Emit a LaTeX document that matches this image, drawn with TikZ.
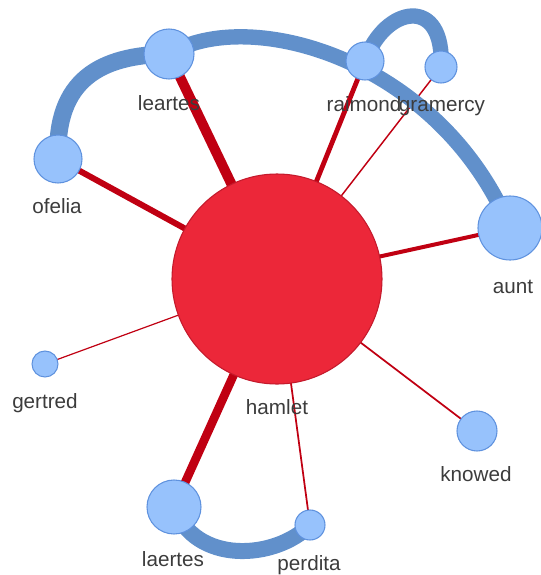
\documentclass[tikz,border=0pt]{standalone}
\usepackage{fontspec}
\setmainfont{Liberation Sans}
\definecolor{hamfill}{HTML}{EC2739}
\definecolor{hamdraw}{HTML}{C41A2C}
\definecolor{rededge}{HTML}{C00012}
\definecolor{nodefill}{HTML}{97C2FC}
\definecolor{nodedraw}{HTML}{5F92DE}
\definecolor{blueedge}{HTML}{6190CB}
\definecolor{labelcol}{HTML}{3C3C3C}
\begin{document}
\begin{tikzpicture}[x=0.75pt,y=-0.75pt,
  vnode/.style={circle,fill=nodefill,draw=nodedraw,line width=0.8pt,inner sep=0pt},
  hnode/.style={circle,fill=hamfill,draw=hamdraw,line width=0.8pt,inner sep=0pt},
  redge/.style={draw=rededge},
  bedge/.style={draw=blueedge,line cap=round},
  lbl/.style={text=labelcol,font=\fontsize{15.5}{18}\selectfont,anchor=base,inner sep=0pt}]
\useasboundingbox (0,0) rectangle (540,575);
% node positions
\coordinate (pham) at (277,279);
\coordinate (plea) at (169,54);
\coordinate (pofe) at (58,159);
\coordinate (prai) at (365,61);
\coordinate (pgra) at (441,67);
\coordinate (paun) at (510,228);
\coordinate (pger) at (45,364);
\coordinate (pkno) at (477,431);
\coordinate (plae) at (174,507);
\coordinate (pper) at (310,525);
% red edges
\draw[redge,line width=7.5pt] (pham) -- (plea);
\draw[redge,line width=4.5pt] (pham) -- (pofe);
\draw[redge,line width=3.6pt] (pham) -- (prai);
\draw[redge,line width=1.1pt] (pham) -- (pgra);
\draw[redge,line width=3pt] (pham) -- (paun);
\draw[redge,line width=0.9pt] (pham) -- (pger);
\draw[redge,line width=1.3pt] (pham) -- (pkno);
\draw[redge,line width=6.5pt] (pham) -- (plae);
\draw[redge,line width=1.3pt] (pham) -- (pper);
% blue edges
\draw[bedge,line width=13pt] (pofe) .. controls (55,80) and (100,55) .. (plea);
\draw[bedge,line width=11.5pt] (plea) .. controls (250,5) and (440,60) .. (paun);
\draw[bedge,line width=11.5pt] (prai) .. controls (385,5) and (445,-5) .. (pgra);
\draw[bedge,line width=12pt] (plae) .. controls (195,565) and (275,560) .. (pper);
% nodes
\node[hnode,minimum size=157.5pt] (hamlet) at (pham) {};
\node[vnode,minimum size=37.5pt] (leartes) at (plea) {};
\node[vnode,minimum size=36pt] (ofelia) at (pofe) {};
\node[vnode,minimum size=28.5pt] (raimond) at (prai) {};
\node[vnode,minimum size=24pt] (gramercy) at (pgra) {};
\node[vnode,minimum size=48pt] (aunt) at (paun) {};
\node[vnode,minimum size=19.5pt] (gertred) at (pger) {};
\node[vnode,minimum size=30pt] (knowed) at (pkno) {};
\node[vnode,minimum size=40.5pt] (laertes) at (plae) {};
\node[vnode,minimum size=22.5pt] (perdita) at (pper) {};
% labels
\node[lbl] (lleartes) at (169,110) {leartes};
\node[lbl] (lofelia) at (57,213) {ofelia};
\node[lbl] (lraimond) at (364,111) {raimond};
\node[lbl] (lgramercy) at (442,111) {gramercy};
\node[lbl] (launt) at (513,293) {aunt};
\node[lbl] (lgertred) at (45,408) {gertred};
\node[lbl] (lhamlet) at (277,414) {hamlet};
\node[lbl] (lknowed) at (476,481) {knowed};
\node[lbl] (llaertes) at (173,566) {laertes};
\node[lbl] (lperdita) at (309,570) {perdita};
\end{tikzpicture}
\end{document}
